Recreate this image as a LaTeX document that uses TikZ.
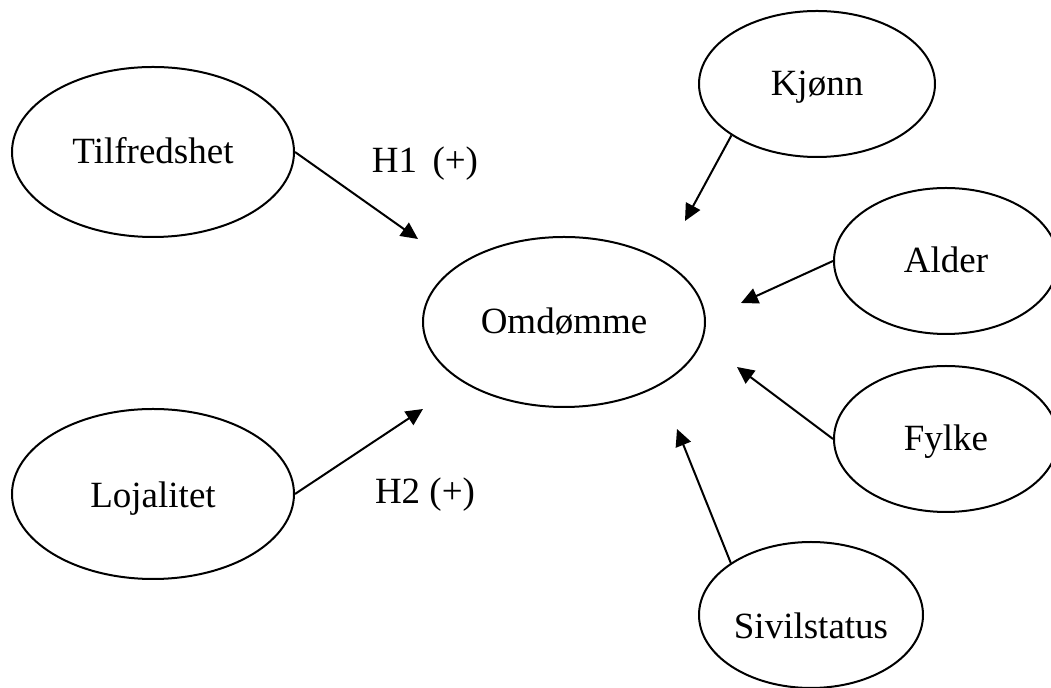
\documentclass[tikz,border=0pt]{standalone}
\usepackage{fontspec}
\setmainfont{Liberation Serif}
\usetikzlibrary{shapes.geometric, arrows.meta, positioning}

\begin{document}
\begin{tikzpicture}[
    x=0.5pt, y=-0.5pt,
    construct/.style={ellipse, draw, line width=1pt, inner sep=0pt, minimum width=141pt, minimum height=85pt, text height=12pt, text depth=0pt, font=\fontsize{18.5}{20}\selectfont},
    control/.style={construct, minimum width=112pt, minimum height=73pt},
    arrow/.style={-{Triangle[length=8.5pt, width=8pt]}, line width=1pt},
    hyp/.style={font=\fontsize{18.5}{20}\selectfont}
  ]
  \useasboundingbox (0,0) rectangle (1051,688);

  % Independent variables
  \node[construct] (tilf) at (153,152) {Tilfredshet};
  \node[construct, text height=14pt] (loj) at (153,494) {Lojalitet};

  % Dependent variable
  \node[construct] (omd) at (564,322) {Omdømme};

  % Control variables
  \node[control, minimum width=118pt] (kjonn) at (817,84) {Kjønn};
  \node[control] (alder) at (946,261) {Alder};
  \node[control] (fylke) at (946,439) {Fylke};
  \node[control, text height=24pt] (sivil) at (811,615) {Sivilstatus};

  % Arrow tips (free ends near Omdømme)
  \coordinate (h1end) at (418,239);
  \coordinate (h2end) at (423,409);
  \coordinate (kjonnend) at (685,221);
  \coordinate (alderend) at (741,303);
  \coordinate (fylkeend) at (737,367);
  \coordinate (sivilend) at (677,429);

  % Hypotheses
  \draw[arrow] (tilf.east) -- (h1end);
  \draw[arrow] (loj.east) -- (h2end);
  \node[hyp] (h1) at (425,164) {H1 \,(+)};
  \node[hyp] (h2) at (425,495) {H2 (+)};

  % Controls
  \draw[arrow] (kjonn.211) -- (kjonnend);
  \draw[arrow] (alder.west) -- (alderend);
  \draw[arrow] (fylke.west) -- (fylkeend);
  \draw[arrow] (sivil.147) -- (sivilend);

\end{tikzpicture}
\end{document}
